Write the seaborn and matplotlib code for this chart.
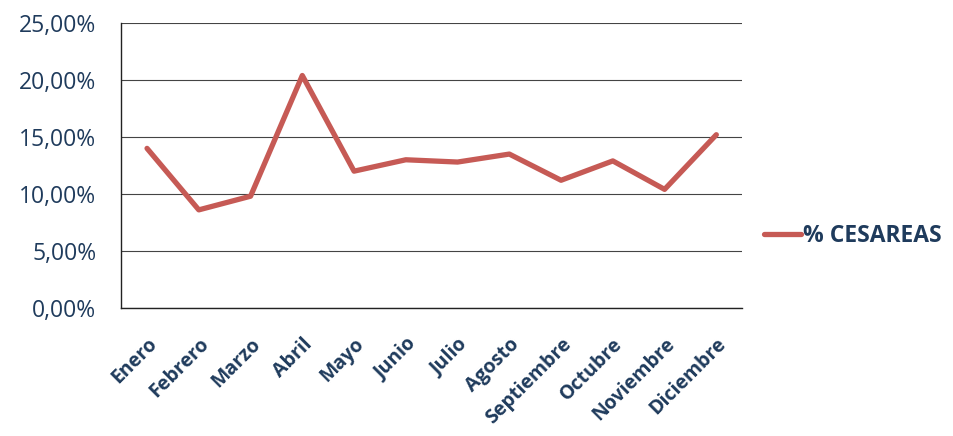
import matplotlib
matplotlib.use("Agg")
import matplotlib.pyplot as plt
import matplotlib.ticker as mticker
import seaborn as sns
import pandas as pd

meses = ["Enero", "Febrero", "Marzo", "Abril", "Mayo", "Junio", "Julio",
         "Agosto", "Septiembre", "Octubre", "Noviembre", "Diciembre"]
cesareas = [14.0, 8.6, 9.8, 20.4, 12.0, 13.0, 12.8, 13.5, 11.2, 12.9, 10.4, 15.2]
y_ticks = [0, 5, 10, 15, 20, 25]

serie = "% CESAREAS"
df = pd.DataFrame({"mes": meses, "valor": cesareas, "serie": serie})

sns.set_theme(style="white")
plt.rcParams["font.family"] = ["Open Sans", "DejaVu Sans"]

texto = "#1f3b5c"
rojo = "#c65a55"

fig = plt.figure(figsize=(9.54, 4.36), dpi=100)
ax = fig.add_axes([0.127, 0.294, 0.651, 0.653])

x_pos = list(range(len(meses)))
df["x"] = x_pos
sns.lineplot(data=df, x="x", y="valor", hue="serie", palette=[rojo],
             linewidth=3.8, ax=ax, legend=True)

ax.set_xlim(-0.5, len(meses) - 0.5)
ax.set_ylim(0, 25)
ax.set_yticks(y_ticks)
ax.yaxis.set_major_formatter(mticker.FuncFormatter(
    lambda v, p: f"{v:.2f}".replace(".", ",") + "%"))
ax.grid(axis="y", color="#444444", linewidth=0.8)
ax.set_axisbelow(True)

# tick marks sit between months, labels at the month centres
ax.set_xticks([i - 0.5 for i in range(len(meses) + 1)], minor=False)
ax.set_xticklabels([])
ax.set_xticks(x_pos, minor=True)
ax.set_xticklabels(meses, minor=True, rotation=45, ha="right",
                   rotation_mode="anchor", fontsize=14, fontweight="bold",
                   color=texto)
ax.tick_params(axis="x", which="minor", length=0, pad=19)
ax.tick_params(axis="x", which="major", length=5, width=1, color="#222222",
               direction="out")
ax.tick_params(axis="y", length=7, width=1, color="#222222", direction="out",
               labelsize=16.5, labelcolor=texto, pad=11)

for s in ["top", "right"]:
    ax.spines[s].set_visible(False)
for s in ["left", "bottom"]:
    ax.spines[s].set_color("#222222")
    ax.spines[s].set_linewidth(1.0)

ax.set_xlabel("")
ax.set_ylabel("")

leg = ax.legend(loc="center left", bbox_to_anchor=(1.035, 0.253), frameon=False,
                handlelength=1.6, handletextpad=0.12, borderpad=0,
                borderaxespad=0, prop={"weight": "bold", "size": 16.5})
for t in leg.get_texts():
    t.set_color(texto)

fig.savefig("out.png", dpi=100, facecolor="white")
